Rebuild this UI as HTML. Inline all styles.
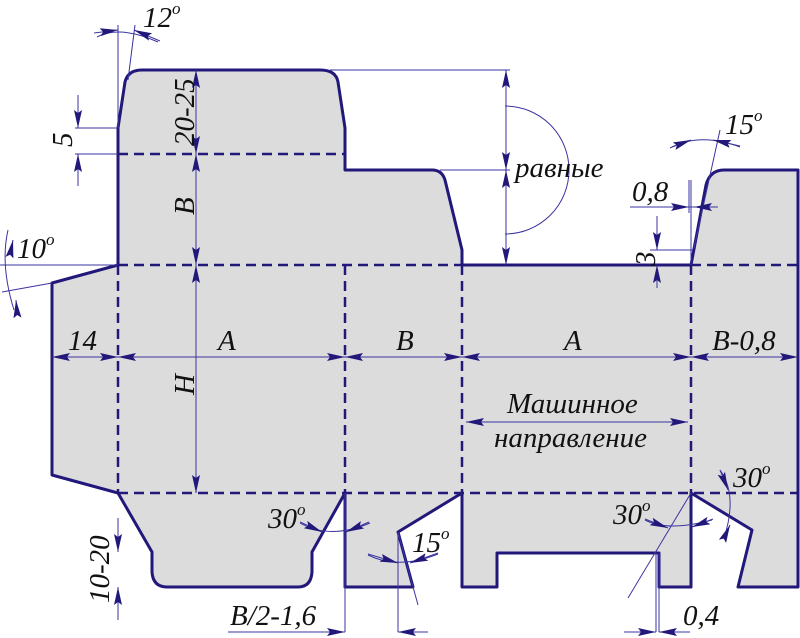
<!DOCTYPE html>
<html><head><meta charset="utf-8"><style>
html,body{margin:0;padding:0;background:#fff;}
svg{display:block;}
text{font-family:"Liberation Serif","DejaVu Serif",serif;font-style:italic;fill:#111;}
</style></head><body>
<svg width="800" height="638" viewBox="0 0 800 638" xmlns="http://www.w3.org/2000/svg">
<defs>
<marker id="a" viewBox="0 0 18 8" refX="18" refY="4" markerWidth="18" markerHeight="8" markerUnits="userSpaceOnUse" orient="auto-start-reverse">
<path d="M0,0 L18,4 L0,8 L3,4 Z" fill="#22187a"/></marker>
</defs>
<path d="M52,283 L118,265 L118,128 L125,82 Q128,70 142,70 L320,70 Q336,70 338,82 L345,128 L345,170 L432,170 Q442,170 445,180 L462,250 L462,265 L691,265 L706,185 Q710,170 724,170 L798,170 L798,587 L738,587 L752,530 L691,493 L691,587 L659,587 L659,553 L497,553 L497,587 L462,587 L462,493 L398,532 L413,587 L345,587 L345,493 L312,552 L312,572 Q311,587 298,587 L167,587 Q153,587 152,572 L152,552 L118,493 L52,475 Z" fill="#dcdcdc" stroke="#22187a" stroke-width="3" stroke-linejoin="round"/>
<g stroke="#22187a" stroke-width="2.5" stroke-dasharray="10,6" fill="none">
<path d="M118,154 H345 M118,265 H462 M691,265 H798 M118,493 H798"/>
<path d="M118,265 V493 M345,265 V493 M462,265 V493 M691,265 V493"/>
</g>
<g stroke="#3a34a0" stroke-width="1" fill="none">
<path d="M330,70 H510 M440,170 H510 M118,128 H75 M118,154 H75"/>
<path d="M118,128 V25 M128,80 L135,25"/>
<path d="M0,265 H118 M2,292 L52,283"/>
<path d="M691,265 V180 M694,248 L720,130 M693,250 H650 M689,180 V213 M630,207 H718"/>
<path d="M345,493 V632 M398,532 V632 M398,532 L418,605"/>
<path d="M659,553 V632 M656,553 V632 M691,493 L628,598"/>
<path d="M97,37 Q120,25 158,42"/>
<path d="M8,230 Q0,265 14,310"/>
<path d="M670,148 Q700,132 740,147"/>
<path d="M505,106 A64,64 0 0 1 505,234"/>
<path d="M300,523 Q330,540 370,523"/>
<path d="M368,555 Q398,570 438,554"/>
<path d="M645,520 Q668,532 712,520"/>
<path d="M720,470 Q738,495 724,538"/>
</g>
<g stroke="#3a34a0" stroke-width="1" fill="none" marker-end="url(#a)" marker-start="url(#a)">
<line x1="196" y1="70" x2="196" y2="154"/>
<line x1="196" y1="154" x2="196" y2="265"/>
<line x1="196" y1="265" x2="196" y2="493"/>
<line x1="506" y1="70" x2="506" y2="170"/>
<line x1="506" y1="170" x2="506" y2="265"/>
<line x1="52" y1="357" x2="118" y2="357"/>
<line x1="118" y1="357" x2="345" y2="357"/>
<line x1="345" y1="357" x2="462" y2="357"/>
<line x1="462" y1="357" x2="691" y2="357"/>
<line x1="691" y1="357" x2="798" y2="357"/>
<line x1="466" y1="422" x2="688" y2="422"/>
</g>
<g stroke="#3a34a0" stroke-width="1" fill="none" marker-end="url(#a)">
<line x1="78" y1="95" x2="78" y2="128"/>
<line x1="78" y1="186" x2="78" y2="154"/>
<line x1="118" y1="518" x2="118" y2="552"/>
<line x1="118" y1="620" x2="118" y2="587"/>
<line x1="657" y1="216" x2="657" y2="250"/>
<line x1="657" y1="288" x2="657" y2="265"/>
<line x1="630" y1="207" x2="689" y2="207"/>
<line x1="718" y1="207" x2="694" y2="207"/>
<line x1="228" y1="632" x2="345" y2="632"/>
<line x1="428" y1="632" x2="398" y2="632"/>
<line x1="624" y1="632" x2="656" y2="632"/>
<line x1="690" y1="632" x2="659" y2="632"/>
<line x1="94" y1="33" x2="118" y2="30"/>
<line x1="160" y1="41" x2="134" y2="30"/>
<line x1="672" y1="147" x2="691" y2="140"/>
<line x1="740" y1="146" x2="713" y2="140"/>
<line x1="12" y1="245" x2="13" y2="240"/>
<line x1="17" y1="312" x2="16" y2="300"/>
<line x1="300" y1="522" x2="322" y2="532"/>
<line x1="369" y1="522" x2="346" y2="532"/>
<line x1="368" y1="554" x2="398" y2="563"/>
<line x1="438" y1="553" x2="410" y2="563"/>
<line x1="645" y1="519" x2="668" y2="528"/>
<line x1="713" y1="519" x2="692" y2="527"/>
<line x1="720" y1="470" x2="728" y2="490"/>
<line x1="724" y1="538" x2="730" y2="525"/>
</g>
<g font-size="29">
<text x="143" y="27">12<tspan font-size="17" dy="-13">o</tspan></text>
<text x="17" y="258">10<tspan font-size="17" dy="-13">o</tspan></text>
<text x="725" y="134">15<tspan font-size="17" dy="-13">o</tspan></text>
<text x="268" y="528">30<tspan font-size="17" dy="-13">o</tspan></text>
<text x="412" y="552">15<tspan font-size="17" dy="-13">o</tspan></text>
<text x="613" y="524">30<tspan font-size="17" dy="-13">o</tspan></text>
<text x="733" y="487">30<tspan font-size="17" dy="-13">o</tspan></text>
<text x="515" y="177">равные</text>
<text x="632" y="201">0,8</text>
<text x="683" y="625">0,4</text>
<text x="230" y="625">B/2-1,6</text>
<text x="68" y="350">14</text>
<text x="218" y="350">A</text>
<text x="396" y="350">B</text>
<text x="564" y="350">A</text>
<text x="712" y="350">B-0,8</text>
<text x="507" y="413">Машинное</text>
<text x="494" y="447">направление</text>
<text transform="translate(194,146) rotate(-90)">20-25</text>
<text transform="translate(194,215) rotate(-90)">B</text>
<text transform="translate(194,395) rotate(-90)">H</text>
<text transform="translate(72,147) rotate(-90)">5</text>
<text transform="translate(655,266) rotate(-90)">3</text>
<text transform="translate(109,603) rotate(-90)">10-20</text>
</g>
</svg>
</body></html>
